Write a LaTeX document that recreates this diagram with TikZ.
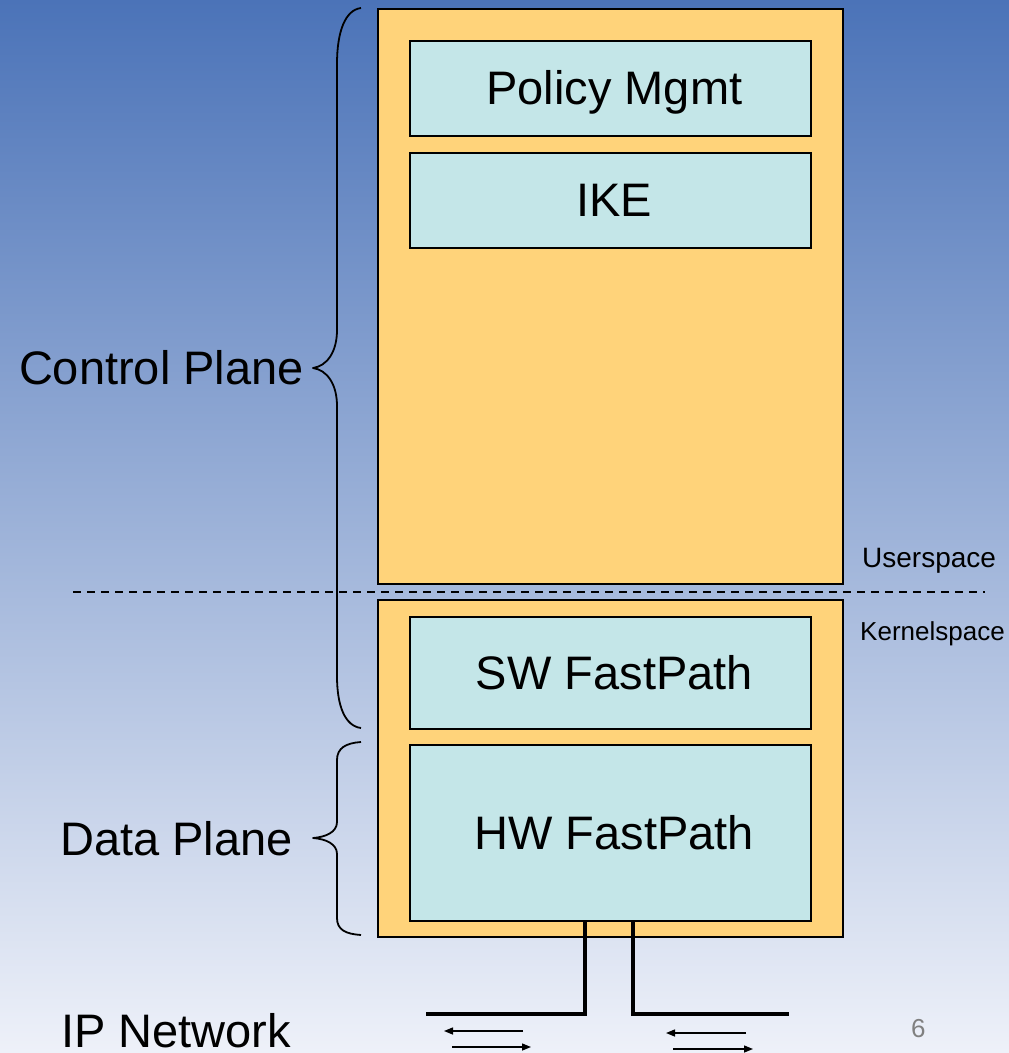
\documentclass[tikz,border=0pt]{standalone}
\usepackage{fontspec}
\setmainfont{Liberation Sans}
\usetikzlibrary{arrows.meta}
\definecolor{bgtop}{RGB}{75,115,184}
\definecolor{bgbot}{RGB}{238,241,249}
\definecolor{orangefill}{RGB}{255,211,122}
\definecolor{cyanfill}{RGB}{196,230,232}
\definecolor{pagenum}{RGB}{128,128,128}
\begin{document}
\begin{tikzpicture}[x=1pt,y=-1pt,
  outerbox/.style={draw=black, line width=1.8pt, fill=orangefill, anchor=north west, inner sep=0pt, minimum width=465pt},
  innerbox/.style={draw=black, line width=1.8pt, fill=cyanfill, anchor=north west, inner sep=0pt, minimum width=401pt},
  boxtext/.style={label={[xshift=4pt, font=\fontsize{47}{56}\selectfont, inner sep=0pt, text height=33pt, text depth=0pt]center:#1}},
  bigtext/.style={font=\fontsize{47}{56}\selectfont, inner sep=0pt},
  bracestyle/.style={line width=1.8pt, line join=round},
  netline/.style={line width=4.5pt},
  flow/.style={line width=1.4pt, -{Triangle[length=9pt,width=7pt]}}
]
\shade[top color=bgtop, bottom color=bgbot] (0,0) rectangle (1009,1053);
\useasboundingbox (0,0) rectangle (1009,1053);

% boxes
\node[outerbox, minimum height=575pt] (cp) at (377,8) {};
\node[outerbox, minimum height=337pt] (dp) at (377,599) {};
\node[innerbox, minimum height=95pt, boxtext={Policy Mgmt}] (pm) at (409,40) {};
\node[innerbox, minimum height=95pt, boxtext={IKE}] (ike) at (409,152) {};
\node[innerbox, minimum height=112pt, boxtext={SW FastPath}] (sw) at (409,616) {};
\node[innerbox, minimum height=176pt, boxtext={HW FastPath}] (hw) at (409,744) {};

% dashed separator
\coordinate (dashL) at (73,592);
\coordinate (dashR) at (985,592);
\draw[line width=2pt, dash pattern=on 8pt off 6pt] (dashL) -- (dashR);

% labels
\node[bigtext, anchor=base east] (cplab) at (304,384) {Control Plane};
\node[bigtext, anchor=base east] (dplab) at (293,855) {Data Plane};
\node[bigtext, anchor=base west, text depth=0pt] (iplab) at (61,1047) {IP Network};
\node[font=\fontsize{28}{32}\selectfont, inner sep=0pt, anchor=base west] (us) at (862,567) {Userspace};
\node[font=\fontsize{26}{30}\selectfont, inner sep=0pt, anchor=base west] (ks) at (860,640) {Kernelspace};
\node[font=\fontsize{26}{30}\selectfont, text=pagenum, inner sep=0pt, anchor=base west] (pg) at (911,1037) {6};

% braces
\draw[bracestyle] (361,8) .. controls (345,10) and (337,32) .. (337,64)
  -- (337,330) .. controls (337,352) and (327,366) .. (313,368)
  .. controls (327,370) and (337,384) .. (337,406)
  -- (337,676) .. controls (337,706) and (345,726) .. (361,728);
\draw[bracestyle] (361,742) .. controls (346,743) and (337,748) .. (337,760)
  -- (337,822) .. controls (337,832) and (326,837) .. (313,838)
  .. controls (326,839) and (337,844) .. (337,854)
  -- (337,918) .. controls (337,930) and (346,934) .. (361,935);

% network lines
\coordinate (netL) at (426,1014);
\coordinate (netR) at (789,1014);
\draw[netline] ([xshift=-25.5pt]hw.south) |- (netL);
\draw[netline] ([xshift=22.5pt]hw.south) |- (netR);

% flow arrows
\coordinate (a1s) at (523,1031); \coordinate (a1e) at (444,1031);
\coordinate (a2s) at (452,1047); \coordinate (a2e) at (531,1047);
\coordinate (a3s) at (746,1033); \coordinate (a3e) at (666,1033);
\coordinate (a4s) at (673,1049); \coordinate (a4e) at (753,1049);
\draw[flow] (a1s) -- (a1e);
\draw[flow] (a2s) -- (a2e);
\draw[flow] (a3s) -- (a3e);
\draw[flow] (a4s) -- (a4e);
\end{tikzpicture}
\end{document}
